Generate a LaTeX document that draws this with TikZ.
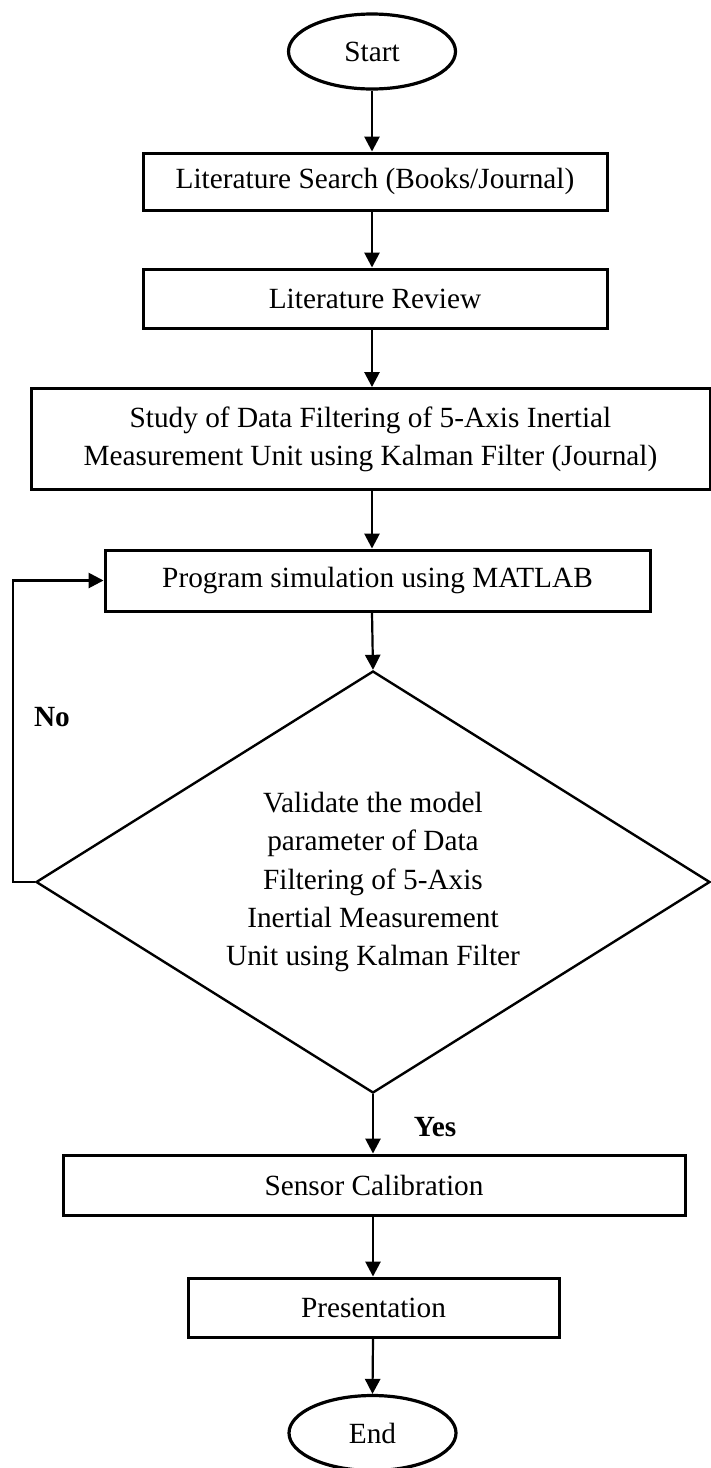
\documentclass[tikz,border=0pt]{standalone}
\usepackage{fontspec}
\setmainfont{Liberation Serif}
\usetikzlibrary{shapes.geometric,arrows.meta}

\tikzset{
  txt/.style={font=\fontsize{14.65pt}{19.15pt}\selectfont, align=center, inner sep=0pt},
  terminal/.style={txt, ellipse, draw, line width=1.6pt, minimum width=83.5pt, minimum height=37.5pt},
  procbox/.style={txt, rectangle, draw, line width=1.5pt},
  decision/.style={txt, diamond, draw, line width=1.2pt, aspect=1.6,
                   minimum width=337pt, minimum height=211pt},
  flow/.style={line width=1.1pt, -{Triangle[length=7.5pt,width=7.6pt]}},
  answer/.style={font=\fontsize{14.65pt}{19.15pt}\selectfont\bfseries, inner sep=0pt}
}

\begin{document}
\begin{tikzpicture}[x=0.5pt, y=-0.5pt]
  \useasboundingbox (0,0) rectangle (711,1468);

  % terminals, steps and the decision
  \node[terminal] (start) at (372,51.5) {Start};
  \node[procbox, minimum width=232pt, minimum height=28.5pt] (search) at (375,181.5)
    {Literature Search (Books/Journal)};
  \node[procbox, minimum width=232pt, minimum height=29.5pt] (review) at (375,298.5)
    {Literature Review};
  \node[procbox, minimum width=339.5pt, minimum height=50.5pt] (study) at (370.5,439)
    {Study of Data Filtering of 5-Axis Inertial\\Measurement Unit using Kalman Filter (Journal)};
  \node[procbox, minimum width=272.5pt, minimum height=30.5pt] (sim) at (377.5,580.5)
    {Program simulation using MATLAB};
  \node[decision] (valid) at (373,882)
    {Validate the model\\parameter of Data\\Filtering of 5-Axis\\Inertial Measurement\\Unit using Kalman Filter};
  \node[procbox, minimum width=311pt, minimum height=30pt] (calib) at (374,1185)
    {Sensor Calibration};
  \node[procbox, minimum width=185.5pt, minimum height=29.5pt] (present) at (373.5,1307.5)
    {Presentation};
  \node[terminal] (stop) at (372.5,1433) {End};

  % branch labels
  \node[answer] (no) at (52,717) {No};
  \node[answer] (yes) at (435,1127) {Yes};

  % main flow
  \draw[flow] (start.south) -- (start.south |- search.north);
  \draw[flow] (start.south |- search.south) -- (start.south |- review.north);
  \draw[flow] (start.south |- review.south) -- (start.south |- study.north);
  \draw[flow] (start.south |- study.south) -- (start.south |- sim.north);
  \draw[flow] (start.south |- sim.south) -- (valid.north);
  \draw[flow] (valid.south) -- (valid.south |- calib.north);
  \draw[flow] (valid.south |- calib.south) -- (valid.south |- present.north);
  \draw[flow] (valid.south |- present.south) -- (stop.north);

  % loop back when validation fails
  \draw[flow] (valid.west) -- ++(-22,0) |- (sim.west);
\end{tikzpicture}
\end{document}
